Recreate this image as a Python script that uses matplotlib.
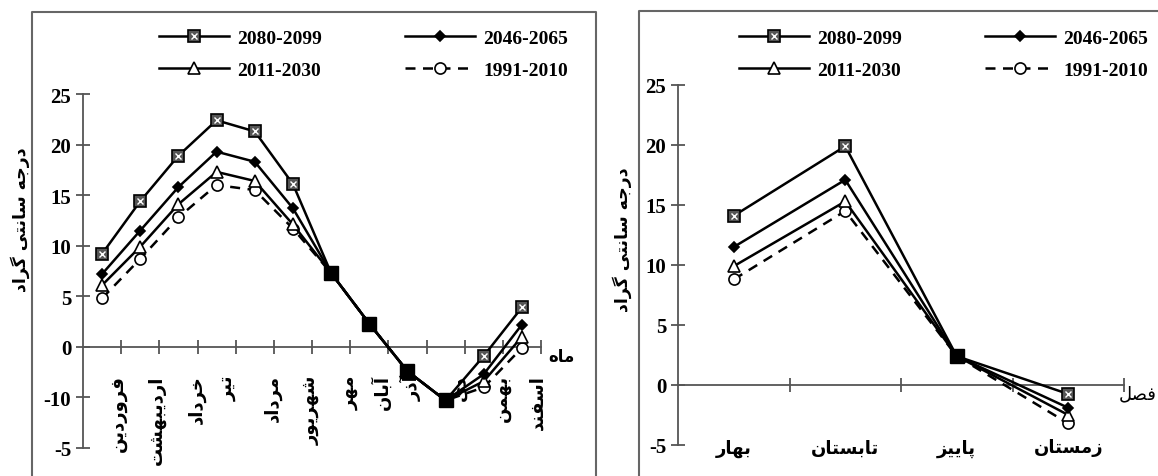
import matplotlib
matplotlib.use('Agg')
import matplotlib.pyplot as plt
from matplotlib.lines import Line2D

plt.rcParams['axes.unicode_minus'] = False

# Persian letters -> (isolated, final, initial, medial) presentation forms
FORMS = {
    'ا': ('\uFE8D', '\uFE8E', None, None),
    'آ': ('\uFE81', '\uFE82', None, None),
    'ب': ('\uFE8F', '\uFE90', '\uFE91', '\uFE92'),
    'پ': ('\uFB56', '\uFB57', '\uFB58', '\uFB59'),
    'ت': ('\uFE95', '\uFE96', '\uFE97', '\uFE98'),
    'ج': ('\uFE9D', '\uFE9E', '\uFE9F', '\uFEA0'),
    'خ': ('\uFEA5', '\uFEA6', '\uFEA7', '\uFEA8'),
    'د': ('\uFEA9', '\uFEAA', None, None),
    'ذ': ('\uFEAB', '\uFEAC', None, None),
    'ر': ('\uFEAD', '\uFEAE', None, None),
    'ز': ('\uFEAF', '\uFEB0', None, None),
    'س': ('\uFEB1', '\uFEB2', '\uFEB3', '\uFEB4'),
    'ش': ('\uFEB5', '\uFEB6', '\uFEB7', '\uFEB8'),
    'ص': ('\uFEB9', '\uFEBA', '\uFEBB', '\uFEBC'),
    'ف': ('\uFED1', '\uFED2', '\uFED3', '\uFED4'),
    'گ': ('\uFB92', '\uFB93', '\uFB94', '\uFB95'),
    'ل': ('\uFEDD', '\uFEDE', '\uFEDF', '\uFEE0'),
    'م': ('\uFEE1', '\uFEE2', '\uFEE3', '\uFEE4'),
    'ن': ('\uFEE5', '\uFEE6', '\uFEE7', '\uFEE8'),
    'ه': ('\uFEE9', '\uFEEA', '\uFEEB', '\uFEEC'),
    'و': ('\uFEED', '\uFEEE', None, None),
    'ی': ('\uFBFC', '\uFBFD', '\uFBFE', '\uFBFF'),
}


def fa(s):
    # joins letters and flips to visual order (matplotlib has no shaping)
    out = []
    for i, ch in enumerate(s):
        if ch not in FORMS:
            out.append(ch)
            continue
        prev = s[i - 1] if i > 0 else None
        nxt = s[i + 1] if i + 1 < len(s) else None
        iso, fin, ini, med = FORMS[ch]
        jp = prev in FORMS and FORMS[prev][2] is not None
        jn = nxt in FORMS and ini is not None
        if jp and jn:
            out.append(med)
        elif jp:
            out.append(fin)
        elif jn:
            out.append(ini)
        else:
            out.append(iso)
    return ''.join(out)[::-1]


# ---- data ----
months = ['فروردین', 'اردیبهشت', 'خرداد', 'تیر', 'مرداد', 'شهریور',
          'مهر', 'آبان', 'آذر', 'دی', 'بهمن', 'اسفند']
seasons = ['بهار', 'تابستان', 'پاییز', 'زمستان']
periods = ['2080-2099', '2046-2065', '2011-2030', '1991-2010']

month_vals = {
    '2080-2099': [9.2, 14.4, 18.9, 22.4, 21.3, 16.1, 7.3, 2.3, -2.4, -5.3, -0.9, 3.9],
    '2046-2065': [7.2, 11.5, 15.8, 19.3, 18.3, 13.7, 7.3, 2.3, -2.4, -5.3, -2.7, 2.2],
    '2011-2030': [6.1, 9.9, 14.1, 17.3, 16.4, 12.1, 7.3, 2.3, -2.4, -5.3, -3.4, 1.0],
    '1991-2010': [4.8, 8.7, 12.8, 16.0, 15.5, 11.7, 7.3, 2.3, -2.4, -5.3, -4.0, -0.1],
}
season_vals = {
    '2080-2099': [14.1, 19.9, 2.4, -0.75],
    '2046-2065': [11.5, 17.1, 2.4, -1.9],
    '2011-2030': [9.9, 15.3, 2.4, -2.5],
    '1991-2010': [8.8, 14.5, 2.4, -3.2],
}

left_yticks = [-10, -5, 0, 5, 10, 15, 20, 25]
left_ylabels = ['-5', '-10', '0', '5', '10', '15', '20', '25']
right_yticks = [-5, 0, 5, 10, 15, 20, 25]

ylabel = 'درجه سانتی گراد'

# where the month names sit along the x axis (layout, not data)
month_label_x = [0.92, 1.94, 2.97, 3.8, 4.96, 5.98, 7.0, 7.82, 8.6, 9.87, 10.97, 11.9]

NUM = ['Liberation Serif', 'DejaVu Serif']
FA = ['DejaVu Sans']

styles = {
    '2080-2099': dict(marker='s', ms=9, mfc='#555555', mec='black', ls='-'),
    '2046-2065': dict(marker='D', ms=5, mfc='black', mec='black', ls='-'),
    '2011-2030': dict(marker='^', ms=8, mfc='white', mec='black', ls='-'),
    '1991-2010': dict(marker='o', ms=8, mfc='white', mec='black', ls=(0, (4, 3))),
}


def draw(ax, xs, data):
    handles = {}
    for p in reversed(periods):
        st = styles[p]
        l, = ax.plot(xs, data[p], color='black', lw=1.8, ls=st['ls'],
                     marker=st['marker'], ms=st['ms'], mfc=st['mfc'],
                     mec=st['mec'], mew=1.2, zorder=3)
        h = l
        if p == '2080-2099':
            x2, = ax.plot(xs, data[p], ls='none', marker='x', ms=5,
                          mec='white', mew=1.0, zorder=4)
            h = (l, x2)
        handles[p] = h
    # points where every period has the same value -> solid squares
    same = [i for i in range(len(xs)) if len(set(data[p][i] for p in periods)) == 1]
    ax.plot([xs[i] for i in same], [data[periods[0]][i] for i in same],
            ls='none', marker='s', ms=9.5, color='black', zorder=5)
    return handles


def style_axis(ax):
    for s in ['top', 'right']:
        ax.spines[s].set_visible(False)
    ax.spines['bottom'].set_position(('data', 0))
    for s in ['left', 'bottom']:
        ax.spines[s].set_color('#555555')
        ax.spines[s].set_linewidth(1.3)
    ax.tick_params(axis='both', direction='inout', length=10, width=1.3,
                   color='#555555')
    ax.tick_params(axis='x', labelbottom=False)
    for t in ax.get_yticklabels():
        t.set_fontfamily(NUM)
        t.set_fontweight('bold')
        t.set_fontsize(15)


fig = plt.figure(figsize=(11.58, 4.77), dpi=100)
W, H = 1158.0, 477.0

# outer frames
fc = '#666666'
fig.add_artist(Line2D([32 / W, 32 / W, 596 / W, 596 / W], [0, 1 - 13 / H, 1 - 13 / H, 0],
                      transform=fig.transFigure, color=fc, lw=1.5))
fig.add_artist(Line2D([639 / W, 639 / W, 1.0], [0, 1 - 12 / H, 1 - 12 / H],
                      transform=fig.transFigure, color=fc, lw=1.5))

# ---- left: months ----
ax1 = fig.add_axes([83 / W, 28 / H, 458 / W, 354 / H])
ax1.set_xlim(0, 12)
ax1.set_ylim(-10, 25)
xs1 = [i + 0.5 for i in range(len(months))]
h1 = draw(ax1, xs1, month_vals)
ax1.set_xticks(range(1, 13))
ax1.set_yticks(left_yticks)
ax1.set_yticklabels(left_ylabels)
style_axis(ax1)
for m, lx in zip(months, month_label_x):
    ax1.text(lx, -2.7, fa(m), rotation=90, ha='center', va='top',
             family=FA, fontweight='bold', fontsize=13)
ax1.text(12.2, -0.9, fa('ماه'), ha='left', va='center', family=FA,
         fontweight='bold', fontsize=12)

# ---- right: seasons ----
ax2 = fig.add_axes([678 / W, 31 / H, 446 / W, 360 / H])
ax2.set_xlim(0, 4)
ax2.set_ylim(-5, 25)
xs2 = [i + 0.5 for i in range(len(seasons))]
h2 = draw(ax2, xs2, season_vals)
ax2.set_xticks(range(1, 5))
ax2.set_yticks(right_yticks)
style_axis(ax2)
for i, s in enumerate(seasons):
    ax2.text(xs2[i], -5.2, fa(s), ha='center', va='center', family=FA,
             fontweight='bold', fontsize=13)
fig.text(1157 / W, 1 - 394 / H, fa('فصل'), ha='right', va='center', family=FA,
         fontsize=13)

# y labels
fig.text(20 / W, 1 - 220 / H, fa(ylabel), rotation=90, ha='center', va='center',
         family=FA, fontweight='bold', fontsize=12.5)
fig.text(622 / W, 1 - 240 / H, fa(ylabel), rotation=90, ha='center', va='center',
         family=FA, fontweight='bold', fontsize=12.5)

# legends (row-major: 2080, 2046 / 2011, 1991)
order = ['2080-2099', '2011-2030', '2046-2065', '1991-2010']
for h, x0 in [(h1, 159), (h2, 739)]:
    fig.legend([h[p] for p in order], order, loc='upper left',
               bbox_to_anchor=(x0 / W, 1 - 30 / H), ncol=2, frameon=False,
               handlelength=3.6, handletextpad=0.4, columnspacing=4.3,
               labelspacing=0.75, borderpad=0, borderaxespad=0,
               prop={'family': NUM, 'weight': 'bold', 'size': 14})

fig.savefig('out.png', dpi=100)
